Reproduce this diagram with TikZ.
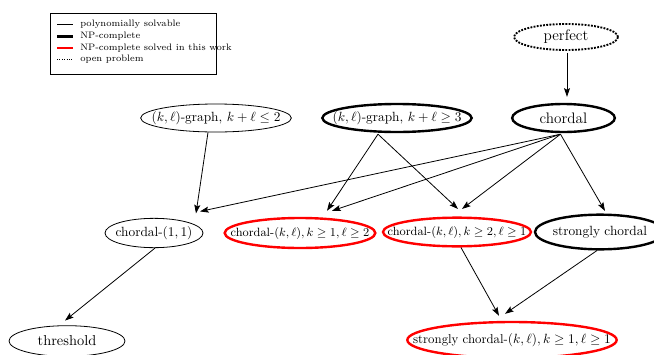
\documentclass[tikz,border=0pt]{standalone}
\usetikzlibrary{shapes.geometric,arrows.meta,calc}
\begin{document}
\begin{tikzpicture}[x=0.75pt,y=-0.75pt,
  ell/.style={ellipse,draw,inner sep=0pt},
  poly/.style={ell,line width=0.6pt},
  np/.style={ell,line width=1.8pt},
  npr/.style={ell,line width=1.8pt,draw=red},
  openp/.style={ell,line width=1.4pt,densely dotted},
  arr/.style={-{Stealth[length=6.5pt,width=4.5pt,inset=1.2pt]},line width=0.6pt},
  legtxt/.style={anchor=west,font=\scriptsize,inner sep=0pt},
  bigtxt/.style={font=\fontsize{11.4pt}{13pt}\selectfont}]
\useasboundingbox (0,0) rectangle (654,354);
% legend
\draw[line width=0.6pt] (50,13) rectangle (216,74);
\draw[line width=0.6pt] (57,24.5) -- (73,24.5);
\draw[line width=1.8pt] (57,36.5) -- (73,36.5);
\draw[line width=1.8pt,red] (57,48) -- (73,48);
\draw[line width=0.8pt,densely dotted] (57,59.5) -- (73,59.5);
\node[legtxt] (l1) at (80,24.5) {polynomially solvable};
\node[legtxt] (l2) at (80,36.5) {NP-complete};
\node[legtxt] (l3) at (80,48) {NP-complete solved in this work};
\node[legtxt] (l4) at (80,59.5) {open problem};
% nodes
\node[openp,minimum width=78pt,minimum height=19.5pt,label={[bigtxt]center:perfect}] (perfect) at (566,37) {};
\node[np,minimum width=77pt,minimum height=21pt,label={[bigtxt]center:chordal}] (chordal) at (563.5,118) {};
\node[poly,minimum width=113pt,minimum height=21pt,label={center:$(k,\ell)$-graph, $k+\ell\leq 2$}] (kl2) at (216,118) {};
\node[np,minimum width=112pt,minimum height=21pt,label={center:$(k,\ell)$-graph, $k+\ell\geq 3$}] (kl3) at (397,118) {};
\node[poly,minimum width=73.5pt,minimum height=22pt,label={center:chordal-$(1,1)$}] (c11) at (154,233) {};
\node[npr,minimum width=113pt,minimum height=22.5pt,label={[font=\small]center:chordal-$(k,\ell),k\geq 1,\ell\geq 2$}] (c12) at (300,233) {};
\node[npr,minimum width=111pt,minimum height=21.5pt,label={[font=\small]center:chordal-$(k,\ell),k\geq 2,\ell\geq 1$}] (c21) at (457,232) {};
\node[np,minimum width=97.5pt,minimum height=26pt,label={center:strongly chordal}] (sc) at (600,232) {};
\node[poly,minimum width=87pt,minimum height=23pt,label={[font=\fontsize{10.8pt}{12pt}\selectfont]center:threshold}] (thr) at (67,341) {};
\node[npr,minimum width=157pt,minimum height=27pt,label={[font=\fontsize{9.6pt}{11pt}\selectfont]center:strongly chordal-$(k,\ell),k\geq 1,\ell\geq 1$}] (sckl) at (512,340) {};
% edges
\draw[arr] ($(perfect.south)+(1,2)$) -- ($(chordal.north)+(3.5,-6)$);
\draw[arr] ($(kl2.south)+(-8,0)$) -- ($(c11.north)+(42,-4.5)$);
\draw[arr] ($(chordal.south)+(-3,1)$) -- ($(c11.north)+(46,-6.5)$);
\draw[arr] ($(kl3.south)+(-19,1)$) -- ($(c12.north)+(27,-6)$);
\draw[arr] ($(kl3.south)+(-19,1)$) -- ($(c21.north)+(1,-7.5)$);
\draw[arr] ($(chordal.south)+(-3,1)$) -- ($(c12.north)+(32,-6)$);
\draw[arr] ($(chordal.south)+(-3,1)$) -- ($(c21.north)+(5,-7.5)$);
\draw[arr] ($(chordal.south)+(-3,1)$) -- ($(sc.north)+(5,-2.5)$);
\draw[arr] ($(c11.south)+(1,0)$) -- ($(thr.north)+(-2,-4.7)$);
\draw[arr] ($(c21.south)+(4,0)$) -- ($(sckl.north)+(-13,-5)$);
\draw[arr] ($(sc.south)+(-3,0)$) -- ($(sckl.north)+(-7,-7)$);
\end{tikzpicture}
\end{document}
